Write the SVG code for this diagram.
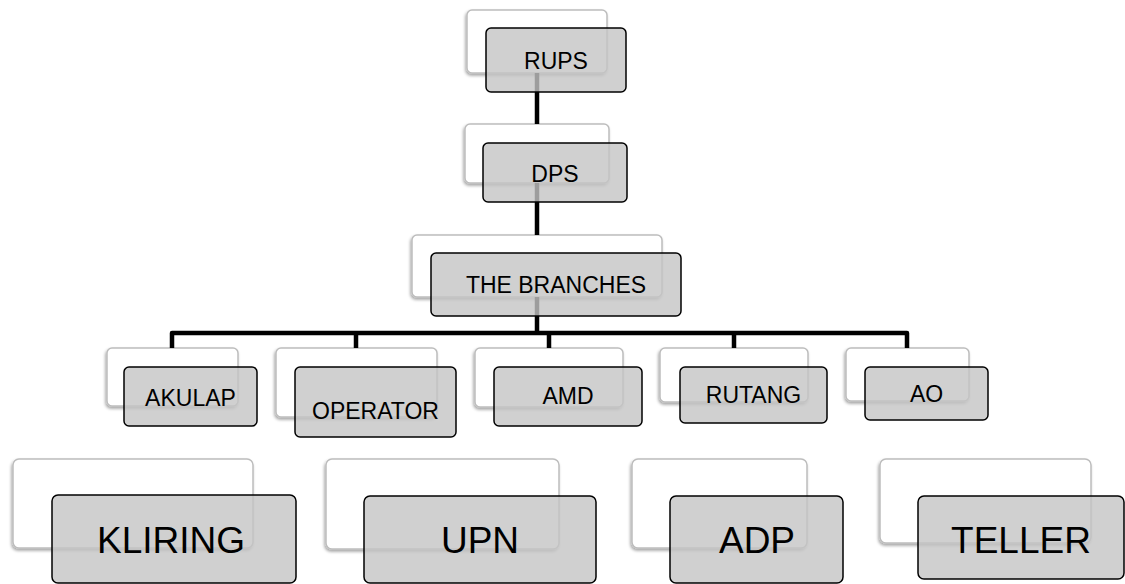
<svg xmlns="http://www.w3.org/2000/svg" width="1125" height="584" viewBox="0 0 1125 584">
<defs>
<filter id="sh" x="-10%" y="-10%" width="120%" height="130%">
<feDropShadow dx="-1" dy="2" stdDeviation="1.5" flood-color="#000" flood-opacity="0.35"/>
</filter>
</defs>
<style>
.back{fill:#fff;stroke:#bdbdbd;stroke-width:1.5;filter:url(#sh)}
.front{fill:#c4c4c4;fill-opacity:0.8;stroke:#000;stroke-width:1.5}
.t{font-family:"Liberation Sans",Arial,sans-serif;font-size:23px;fill:#000;text-anchor:middle}
.tb{font-family:"Liberation Sans",Arial,sans-serif;font-size:37px;fill:#000;text-anchor:middle}
.c{fill:none;stroke:#000;stroke-width:4.5;stroke-linejoin:round}
</style>
<rect width="1125" height="584" fill="#fff"/>
<g id="backs">
<rect class="back" x="467" y="10" width="140" height="63" rx="5"/>
<rect class="back" x="465" y="124" width="144" height="59" rx="5"/>
<rect class="back" x="412" y="235" width="250" height="62" rx="5"/>
<rect class="back" x="107" y="348" width="131" height="58" rx="5"/>
<rect class="back" x="276" y="348" width="161" height="69" rx="5"/>
<rect class="back" x="475" y="348" width="148" height="59" rx="5"/>
<rect class="back" x="660" y="348" width="148" height="54" rx="5"/>
<rect class="back" x="846" y="348" width="123" height="53" rx="5"/>
<rect class="back" x="13" y="459" width="240" height="89" rx="6"/>
<rect class="back" x="326" y="459" width="233" height="90" rx="6"/>
<rect class="back" x="632" y="459" width="175" height="89" rx="6"/>
<rect class="back" x="880" y="459" width="211" height="84" rx="6"/>
</g>
<g id="connectors">
<line class="c" x1="537" y1="73" x2="537" y2="124"/>
<line class="c" x1="537" y1="183" x2="537" y2="235"/>
<line class="c" x1="537" y1="297" x2="537" y2="333"/>
<path class="c" d="M172 348 V333 H907 V348"/>
<line class="c" x1="356" y1="333" x2="356" y2="348"/>
<line class="c" x1="549" y1="333" x2="549" y2="348"/>
<line class="c" x1="734" y1="333" x2="734" y2="348"/>
</g>
<g id="rups"><rect class="front" x="486" y="28" width="140" height="64" rx="5"/><text class="t" x="556" y="69">RUPS</text></g>
<g id="dps"><rect class="front" x="483" y="143" width="144" height="59" rx="5"/><text class="t" x="555" y="182">DPS</text></g>
<g id="branches"><rect class="front" x="431" y="253" width="250" height="63" rx="5"/><text class="t" x="556" y="293">THE BRANCHES</text></g>
<g id="akulap"><rect class="front" x="124" y="367" width="133" height="59" rx="5"/><text class="t" x="190.5" y="406">AKULAP</text></g>
<g id="operator"><rect class="front" x="295" y="367" width="161" height="70" rx="5"/><text class="t" x="375.5" y="419">OPERATOR</text></g>
<g id="amd"><rect class="front" x="494" y="367" width="148" height="59" rx="5"/><text class="t" x="568" y="404">AMD</text></g>
<g id="rutang"><rect class="front" x="680" y="367" width="147" height="56" rx="5"/><text class="t" x="753.5" y="403">RUTANG</text></g>
<g id="ao"><rect class="front" x="865" y="367" width="123" height="53" rx="5"/><text class="t" x="926.5" y="402">AO</text></g>
<g id="kliring"><rect class="front" x="52" y="495" width="244" height="88" rx="6"/><text class="tb" x="171" y="553">KLIRING</text></g>
<g id="upn"><rect class="front" x="364" y="496" width="232" height="87" rx="6"/><text class="tb" x="480" y="553">UPN</text></g>
<g id="adp"><rect class="front" x="670" y="496" width="173" height="87" rx="6"/><text class="tb" x="757" y="553">ADP</text></g>
<g id="teller"><rect class="front" x="918" y="496" width="206" height="83" rx="6"/><text class="tb" x="1021" y="553">TELLER</text></g>
</svg>
